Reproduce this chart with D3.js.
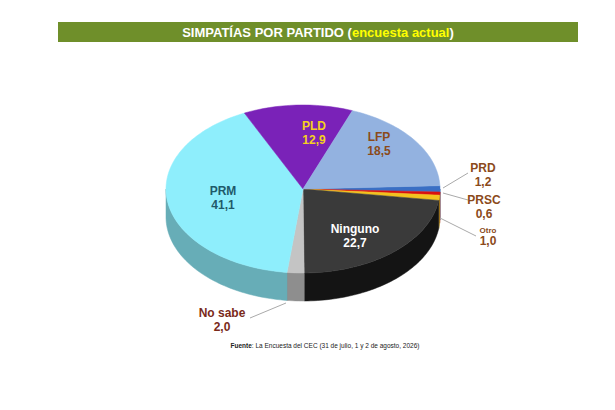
<!DOCTYPE html><html><head><meta charset="utf-8"><script src="https://cdn.jsdelivr.net/npm/d3@7"></script>
<style>body{margin:0;background:#fff}svg{font-family:Arial,"Liberation Sans",sans-serif}</style></head><body>
<svg id="c" width="615" height="410"></svg>
<script>
const labels=["PRD","PRSC","Otro","Ninguno","No sabe","PRM","PLD","LFP"];
const values=[1.2,0.6,1.0,22.7,2.0,41.1,12.9,18.5];
const valueText=["1,2","0,6","1,0","22,7","2,0","41,1","12,9","18,5"];
const colors=["#3a6fc4","#d81010","#f2c21e","#3a3a3a","#c4c4c4","#8eeefc","#7a22b8","#93b2e0"];
const svg=d3.select("#c");
const cx=303,cy=189,rx=137,ry=84,dep=28,start=-0.04;
svg.append("rect").attr("x",58).attr("y",22).attr("width",520).attr("height",20).attr("fill","#6f8f2a");
const t=svg.append("text").attr("x",318).attr("y",37).attr("text-anchor","middle").attr("font-size",13).attr("font-weight","bold").attr("fill","#fff");
t.append("tspan").text("SIMPATÍAS POR PARTIDO (");t.append("tspan").attr("fill","#ffff00").text("encuesta actual");t.append("tspan").text(")");
const pie=d3.pie().sort(null).startAngle(start).endAngle(start+2*Math.PI)(values);
const P=(a,d=0)=>[cx+rx*Math.cos(a),cy+ry*Math.sin(a)+d];
function arcPts(a0,a1,d){const n=Math.max(2,Math.ceil((a1-a0)*40));return d3.range(n+1).map(i=>P(a0+(a1-a0)*i/n,d));}
const line=d3.line();
pie.forEach((s,i)=>{
  [[0,Math.PI],[2*Math.PI,3*Math.PI]].forEach(([l,h])=>{
    const a0=Math.max(s.startAngle,l),a1=Math.min(s.endAngle,h);
    if(a1<=a0)return;
    const pts=arcPts(a0,a1,0).concat(arcPts(a0,a1,dep).reverse());
    const c=labels[i]==="Ninguno"?"#141414":d3.color(colors[i]).darker(0.9);
    svg.append("path").attr("d",line(pts)+"Z").attr("fill",c).attr("stroke",c).attr("stroke-width",0.5);
  });
});
pie.forEach((s,i)=>{
  const pts=[[cx,cy]].concat(arcPts(s.startAngle,s.endAngle,0));
  svg.append("path").attr("d",line(pts)+"Z").attr("fill",colors[i]).attr("stroke",colors[i]).attr("stroke-width",0.5);
});
const inner={"PLD":[314,130,"#f5d020"],"LFP":[379,141,"#8b4a1a"],"PRM":[223,195,"#1f5a6a"],"Ninguno":[355,233,"#ffffff"]};
const outer={"PRD":[483,172,"#8b4a1a",[[443,188],[468,173]]],"PRSC":[484,204,"#8b4a1a",[[443,193],[468,200]]],
 "Otro":[488,233,"#8b4a1a",[[440,218],[476,236]]],"No sabe":[222,317,"#7a2a1a",[[286,303],[250,318]]]};
labels.forEach((l,i)=>{
  let o=inner[l]||outer[l];
  if(outer[l]) svg.append("path").attr("d",line(o[3])).attr("stroke","#aaa").attr("fill","none");
  const small=l==="Otro";
  const tx=svg.append("text").attr("text-anchor","middle").attr("font-weight","bold").attr("fill",o[2]).attr("font-size",12);
  tx.append("tspan").attr("x",o[0]).attr("y",o[1]).attr("font-size",small?8:12).text(l);
  tx.append("tspan").attr("x",o[0]).attr("dy",small?12:14).text(valueText[i]);
});
const f=svg.append("text").attr("x",325).attr("y",348).attr("text-anchor","middle").attr("font-size",6.5).attr("fill","#222");
f.append("tspan").attr("font-weight","bold").text("Fuente");f.append("tspan").text(": La Encuesta del CEC (31 de julio, 1 y 2 de agosto, 2026)");
</script></body></html>
